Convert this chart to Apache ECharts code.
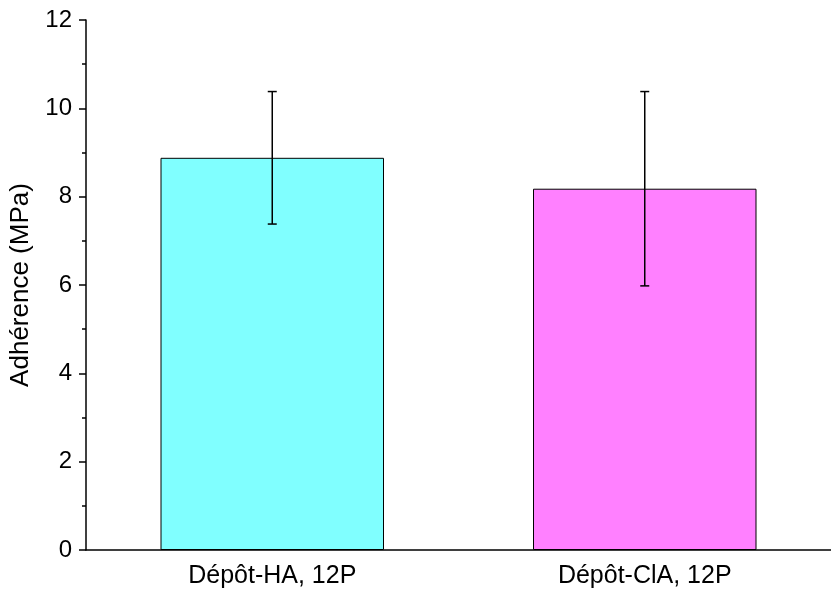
<!DOCTYPE html>
<html>
<head>
<meta charset="utf-8">
<script src="https://cdn.jsdelivr.net/npm/echarts@6/dist/echarts.min.js"></script>
<style>html,body{margin:0;padding:0;background:#fff}#c{width:831px;height:592px}</style>
</head>
<body>
<div id="c"></div>
<script>
var categories = ['Dépôt-HA, 12P', 'Dépôt-ClA, 12P'];
var values = [8.88, 8.18];
var errors = [1.5, 2.2];
var colors = ['#80FFFF', '#FF80FF'];
var yTicks = [0, 2, 4, 6, 8, 10, 12];

var chart = echarts.init(document.getElementById('c'));
var font = 'Liberation Sans, Arial, sans-serif';
chart.setOption({
  animation: false,
  grid: { left: 86, top: 20, bottom: 42, width: 752 },
  xAxis: {
    type: 'category',
    data: categories,
    axisLine: { lineStyle: { color: '#000', width: 1.5 } },
    axisTick: { alignWithLabel: true, length: 7, lineStyle: { color: '#000', width: 1.5 } },
    axisLabel: { color: '#000', fontSize: 25, fontFamily: font, margin: 14 }
  },
  yAxis: {
    type: 'value',
    min: yTicks[0], max: yTicks[yTicks.length - 1], interval: 2,
    name: 'Adhérence (MPa)',
    nameLocation: 'middle',
    nameGap: 52,
    nameTextStyle: { color: '#000', fontSize: 26, fontFamily: font },
    axisLine: { show: true, lineStyle: { color: '#000', width: 1.5 } },
    axisTick: { show: true, length: 7, lineStyle: { color: '#000', width: 1.5 } },
    minorTick: { show: true, splitNumber: 2, length: 4, lineStyle: { color: '#000', width: 1.5 } },
    splitLine: { show: false },
    axisLabel: { color: '#000', fontSize: 24, fontFamily: font, margin: 14 }
  },
  series: [
    {
      type: 'bar',
      barWidth: '60%',
      data: values.map(function (v, i) {
        return { value: v, itemStyle: { color: colors[i], borderColor: '#000', borderWidth: 1 } };
      })
    },
    {
      type: 'custom',
      data: values.map(function (v, i) { return [i, v - errors[i], v + errors[i]]; }),
      renderItem: function (params, api) {
        var lo = api.coord([api.value(0), api.value(1)]);
        var hi = api.coord([api.value(0), api.value(2)]);
        var hw = 4.5;
        var st = { stroke: '#000', lineWidth: 1.5 };
        return {
          type: 'group',
          children: [
            { type: 'line', shape: { x1: hi[0], y1: hi[1], x2: lo[0], y2: lo[1] }, style: st },
            { type: 'line', shape: { x1: hi[0] - hw, y1: hi[1], x2: hi[0] + hw, y2: hi[1] }, style: st },
            { type: 'line', shape: { x1: lo[0] - hw, y1: lo[1], x2: lo[0] + hw, y2: lo[1] }, style: st }
          ]
        };
      },
      z: 10
    }
  ]
});
</script>
</body>
</html>
